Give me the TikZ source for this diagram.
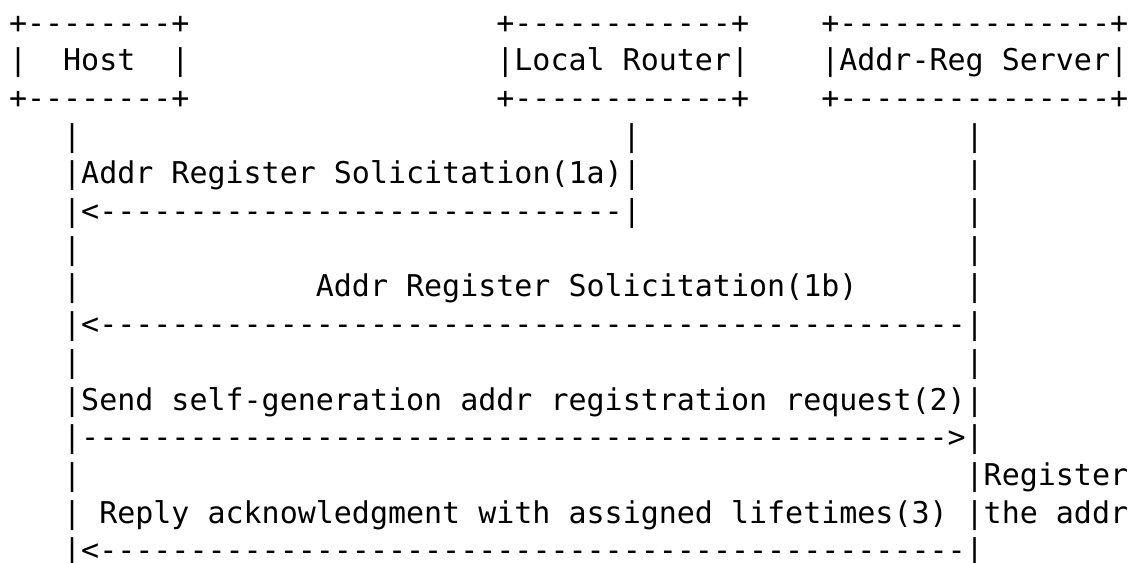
\documentclass[tikz,border=0pt]{standalone}
\usepackage{fontspec}
\setmonofont{DejaVu Sans Mono}
\ExplSyntaxOn
\cs_new:Npn \dashrep #1 { \prg_replicate:nn {#1} {-} }
\ExplSyntaxOff
\tikzset{asc/.style={anchor=base west, inner sep=0pt, outer sep=0pt, text=black,
  font=\ttfamily\fontsize{22.49pt}{27pt}\selectfont}}
% name, column, row, text
\newcommand\asc[4]{\node[asc] (#1) at ({9+18.05*#2},{33+37.7*(#3-1)}) {#4};}
\begin{document}
\begin{tikzpicture}[x=0.75pt,y=-0.75pt]
\fill[white] (0,0) rectangle (1132,562);
\useasboundingbox (0,0) rectangle (1132,562);
% row 1
\asc{hostTop}{0}{1}{+\dashrep{8}+}
\asc{routerTop}{27}{1}{+\dashrep{12}+}
\asc{serverTop}{45}{1}{+\dashrep{15}+}
% row 2
\asc{hostL}{0}{2}{|}
\asc{host}{3}{2}{Host}
\asc{hostR}{9}{2}{|}
\asc{router}{27}{2}{|Local Router|}
\asc{server}{45}{2}{|Addr-Reg Server|}
% row 3
\asc{hostBot}{0}{3}{+\dashrep{8}+}
\asc{routerBot}{27}{3}{+\dashrep{12}+}
\asc{serverBot}{45}{3}{+\dashrep{15}+}
% row 4
\asc{h4}{3}{4}{|}
\asc{r4}{34}{4}{|}
\asc{s4}{53}{4}{|}
% row 5
\asc{m1a}{3}{5}{|Addr Register Solicitation(1a)|}
\asc{s5}{53}{5}{|}
% row 6
\asc{a1a}{3}{6}{|<\dashrep{29}|}
\asc{s6}{53}{6}{|}
% row 7
\asc{h7}{3}{7}{|}
\asc{s7}{53}{7}{|}
% row 8
\asc{h8}{3}{8}{|}
\asc{m1b}{17}{8}{Addr Register Solicitation(1b)}
\asc{s8}{53}{8}{|}
% row 9
\asc{a1b}{3}{9}{|<\dashrep{48}|}
% row 10
\asc{h10}{3}{10}{|}
\asc{s10}{53}{10}{|}
% row 11
\asc{m2}{3}{11}{|Send self-generation addr registration request(2)|}
% row 12
\asc{a2}{3}{12}{|\dashrep{48}>|}
% row 13
\asc{h13}{3}{13}{|}
\asc{s13}{53}{13}{|Register}
% row 14
\asc{h14}{3}{14}{|}
\asc{m3}{5}{14}{Reply acknowledgment with assigned lifetimes(3)}
\asc{s14}{53}{14}{|the addr}
% row 15
\asc{a3}{3}{15}{|<\dashrep{48}|}
\end{tikzpicture}
\end{document}
